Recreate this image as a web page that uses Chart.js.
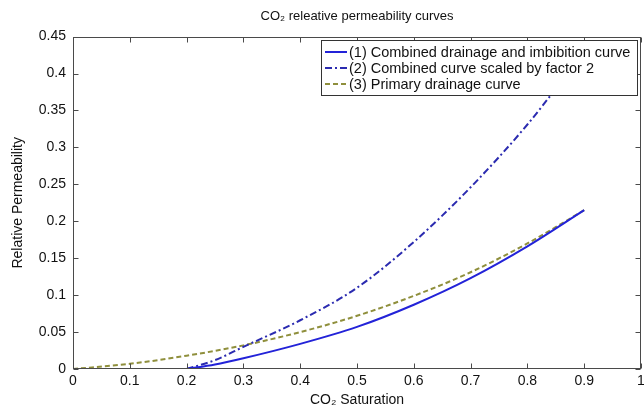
<!DOCTYPE html>
<html><head><meta charset="utf-8">
<script src="https://cdn.jsdelivr.net/npm/chart.js@4.4.0/dist/chart.umd.min.js"></script>
<style>html,body{margin:0;padding:0;background:#fff}canvas{display:block}</style>
</head><body>
<canvas id="c" width="644" height="412"></canvas>
<script>
const chartTitle = 'CO₂ releative permeability curves';
const xAxisTitle = 'CO₂ Saturation';
const yAxisTitle = 'Relative Permeability';
const seriesLabels = ['(1) Combined drainage and imbibition curve', '(2) Combined curve scaled by factor 2', '(3) Primary drainage curve'];

const satCombined = [0.2, 0.25, 0.3, 0.4, 0.5, 0.6, 0.7, 0.8, 0.9];
const krCombined  = [0, 0.006, 0.0145, 0.034, 0.057, 0.087, 0.123, 0.166, 0.215];
const satScaled   = [0.2, 0.25, 0.3, 0.4, 0.5, 0.6, 0.7, 0.8, 0.9];
const krScaled    = [0, 0.012, 0.030, 0.066, 0.110, 0.172, 0.246, 0.331, 0.43];
const satPrimary  = [0, 0.1, 0.2, 0.3, 0.4, 0.5, 0.6, 0.7, 0.8, 0.9];
const krPrimary   = [0, 0.007, 0.018, 0.032, 0.050, 0.072, 0.099, 0.131, 0.170, 0.215];

const xTickValues = [0, 0.1, 0.2, 0.3, 0.4, 0.5, 0.6, 0.7, 0.8, 0.9, 1];
const xTickLabels = ['0', '0.1', '0.2', '0.3', '0.4', '0.5', '0.6', '0.7', '0.8', '0.9', '1'];
const yTickValues = [0, 0.05, 0.1, 0.15, 0.2, 0.25, 0.3, 0.35, 0.4, 0.45];
const yTickLabels = ['0', '0.05', '0.1', '0.15', '0.2', '0.25', '0.3', '0.35', '0.4', '0.45'];

const FONT = "'Liberation Sans', Arial, Helvetica, sans-serif";
const colors = ['#2323d8', '#2b2bb0', '#8f8f3c'];
const dashes = [[], [7, 3, 2, 3], [5, 3]];

const pts = (xs, ys) => xs.map((x, i) => ({x: x, y: ys[i]}));

const framePlugin = {
  id: 'frameAndLegend',
  beforeDraw(chart) {
    const ctx = chart.ctx;
    ctx.save();
    ctx.fillStyle = '#fff';
    ctx.fillRect(0, 0, chart.width, chart.height);
    ctx.restore();
  },
  afterDatasetsDraw(chart) {
    const ctx = chart.ctx;
    const a = chart.chartArea;
    const xs = chart.scales.x, ys = chart.scales.y;
    ctx.save();
    ctx.strokeStyle = '#4a4a4a';
    ctx.lineWidth = 1;
    ctx.setLineDash([]);
    const L = Math.round(a.left) + 0.5, R = Math.round(a.right) - 0.5;
    const T = Math.round(a.top) + 0.5, B = Math.round(a.bottom) - 0.5;
    ctx.strokeRect(L, T, R - L, B - T);
    ctx.beginPath();
    xTickValues.forEach(v => {
      const px = Math.round(xs.getPixelForValue(v)) + 0.5;
      ctx.moveTo(px, B); ctx.lineTo(px, B - 5);
      ctx.moveTo(px, T); ctx.lineTo(px, T + 5);
    });
    yTickValues.forEach(v => {
      const py = Math.round(ys.getPixelForValue(v)) + 0.5;
      ctx.moveTo(L, py); ctx.lineTo(L + 5, py);
      ctx.moveTo(R, py); ctx.lineTo(R - 5, py);
    });
    ctx.stroke();

    // legend box
    const bx = 321.5, by = 40.5, bw = 316, bh = 55;
    ctx.fillStyle = '#fff';
    ctx.fillRect(bx, by, bw, bh);
    ctx.strokeStyle = '#333';
    ctx.strokeRect(bx, by, bw, bh);
    ctx.font = '14.5px ' + FONT;
    ctx.textBaseline = 'middle';
    ctx.textAlign = 'left';
    chart.data.datasets.forEach((ds, i) => {
      const cy = 52 + i * 16;
      ctx.beginPath();
      ctx.strokeStyle = ds.borderColor;
      ctx.lineWidth = 2;
      ctx.setLineDash(ds.borderDash || []);
      ctx.moveTo(325, cy); ctx.lineTo(347, cy);
      ctx.stroke();
      ctx.setLineDash([]);
      ctx.fillStyle = '#111';
      ctx.fillText(ds.label, 349, cy + 1);
    });
    ctx.restore();
  }
};

new Chart(document.getElementById('c'), {
  type: 'line',
  data: {
    datasets: [
      {label: seriesLabels[0], data: pts(satCombined, krCombined), borderColor: colors[0], borderWidth: 2, borderDash: dashes[0], pointRadius: 0, cubicInterpolationMode: 'monotone', fill: false},
      {label: seriesLabels[1], data: pts(satScaled, krScaled), borderColor: colors[1], borderWidth: 2, borderDash: dashes[1], pointRadius: 0, cubicInterpolationMode: 'monotone', fill: false},
      {label: seriesLabels[2], data: pts(satPrimary, krPrimary), borderColor: colors[2], borderWidth: 2, borderDash: dashes[2], pointRadius: 0, cubicInterpolationMode: 'monotone', fill: false}
    ]
  },
  options: {
    responsive: false,
    animation: false,
    devicePixelRatio: 1,
    layout: {padding: {top: 0, right: 3, bottom: 0, left: 0}},
    plugins: {
      legend: {display: false},
      tooltip: {enabled: false},
      title: {
        display: true, text: chartTitle, fullSize: false, color: '#111',
        font: {family: FONT, size: 13, weight: 'normal'},
        padding: {top: 9, bottom: 12}
      }
    },
    scales: {
      x: {
        type: 'linear', min: 0, max: 1,
        afterBuildTicks: s => { s.ticks = xTickValues.map(v => ({value: v})); },
        afterFit: s => { s.height = 43; s.paddingLeft = 0; s.paddingRight = 0; },
        ticks: {callback: (v, i) => xTickLabels[i], color: '#111', font: {family: FONT, size: 14}, padding: 4, maxRotation: 0, autoSkip: false},
        grid: {display: true, drawOnChartArea: false, drawTicks: false},
        border: {display: false},
        title: {display: true, text: xAxisTitle, color: '#111', font: {family: FONT, size: 14}, padding: {top: 0, bottom: 3}}
      },
      y: {
        type: 'linear', min: 0, max: 0.45,
        afterBuildTicks: s => { s.ticks = yTickValues.map(v => ({value: v})); },
        afterFit: s => { s.width = 73; s.paddingTop = 0; s.paddingBottom = 0; },
        ticks: {callback: (v, i) => yTickLabels[i], color: '#111', font: {family: FONT, size: 14}, padding: 7, autoSkip: false},
        grid: {display: true, drawOnChartArea: false, drawTicks: false},
        border: {display: false},
        title: {display: true, text: yAxisTitle, color: '#111', font: {family: FONT, size: 14}, padding: {top: 10, bottom: 0}}
      }
    }
  },
  plugins: [framePlugin]
});
</script>
</body></html>
